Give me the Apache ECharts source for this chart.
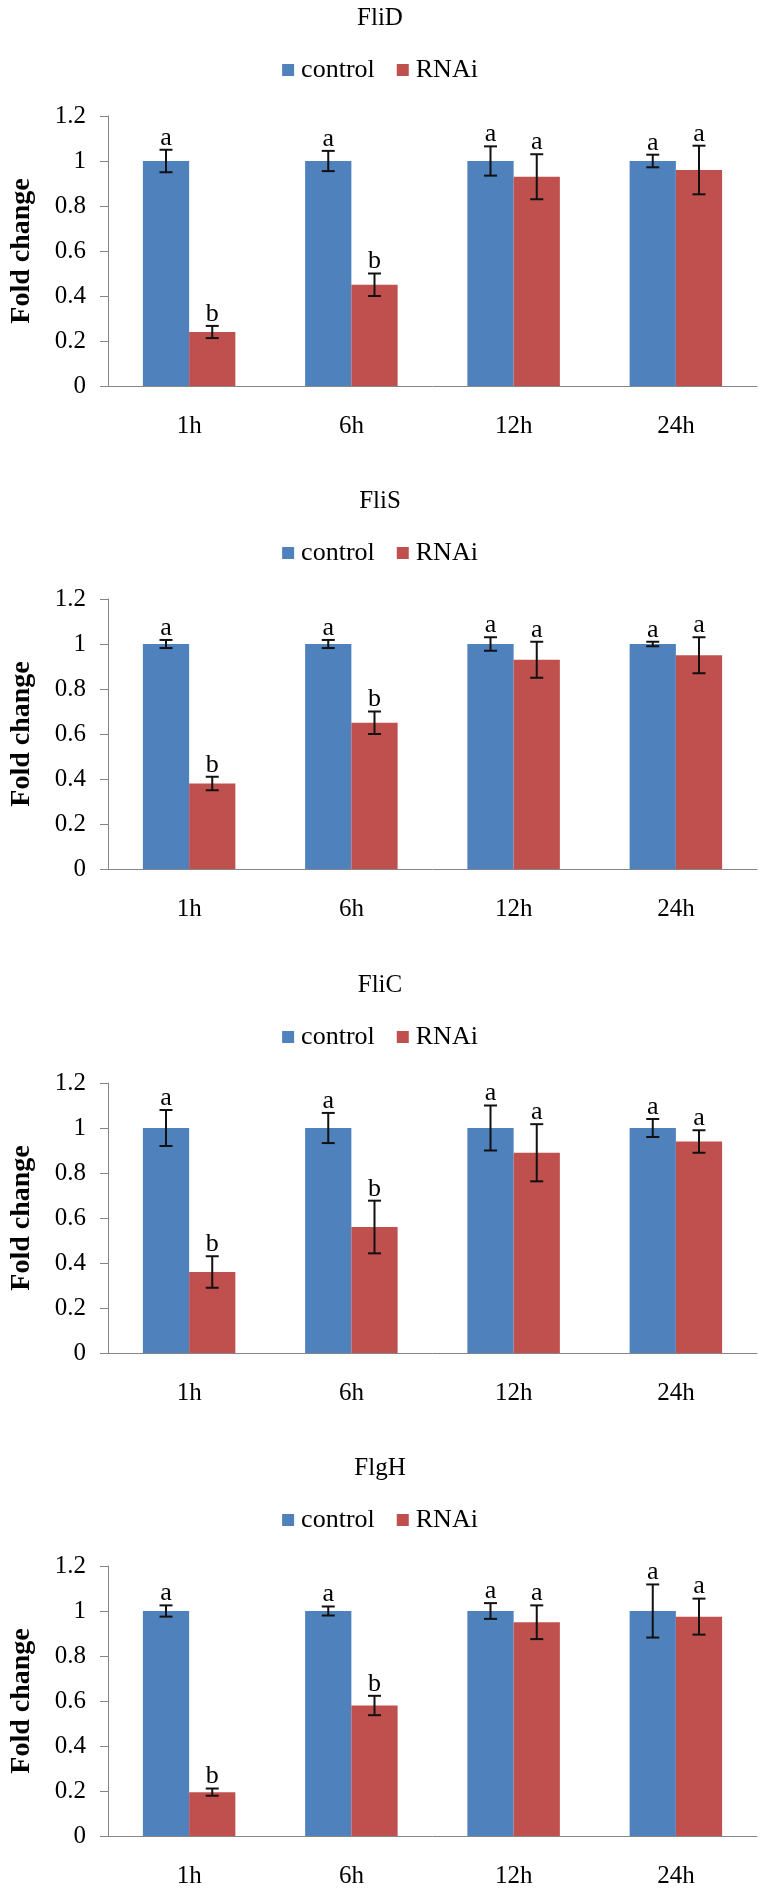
<!DOCTYPE html>
<html>
<head>
<meta charset="utf-8">
<script src="https://cdn.jsdelivr.net/npm/echarts@6/dist/echarts.min.js"></script>
<style>
html,body{margin:0;padding:0;background:#fff;}
#chart{width:760px;height:1890px;}
</style>
</head>
<body>
<div id="chart"></div>
<script>
// ---------- data ----------
const categories = ['1h', '6h', '12h', '24h'];
const genes = ['FliD', 'FliS', 'FliC', 'FlgH'];
const seriesNames = ['control', 'RNAi'];

const FliD_control = [1, 1, 1, 1];
const FliD_RNAi = [0.24, 0.45, 0.93, 0.96];
const FliD_controlErr = [0.05, 0.045, 0.065, 0.028];
const FliD_RNAiErr = [0.027, 0.05, 0.1, 0.108];
const FliD_controlLetters = ['a', 'a', 'a', 'a'];
const FliD_RNAiLetters = ['b', 'b', 'a', 'a'];

const FliS_control = [1, 1, 1, 1];
const FliS_RNAi = [0.38, 0.65, 0.93, 0.95];
const FliS_controlErr = [0.018, 0.018, 0.03, 0.01];
const FliS_RNAiErr = [0.03, 0.05, 0.08, 0.08];
const FliS_controlLetters = ['a', 'a', 'a', 'a'];
const FliS_RNAiLetters = ['b', 'b', 'a', 'a'];

const FliC_control = [1, 1, 1, 1];
const FliC_RNAi = [0.36, 0.56, 0.89, 0.94];
const FliC_controlErr = [0.08, 0.067, 0.1, 0.04];
const FliC_RNAiErr = [0.07, 0.117, 0.127, 0.05];
const FliC_controlLetters = ['a', 'a', 'a', 'a'];
const FliC_RNAiLetters = ['b', 'b', 'a', 'a'];

const FlgH_control = [1, 1, 1, 1];
const FlgH_RNAi = [0.195, 0.58, 0.95, 0.975];
const FlgH_controlErr = [0.025, 0.02, 0.035, 0.118];
const FlgH_RNAiErr = [0.016, 0.043, 0.075, 0.08];
const FlgH_controlLetters = ['a', 'a', 'a', 'a'];
const FlgH_RNAiLetters = ['b', 'b', 'a', 'a'];

// ---------- assembly ----------
const panels = [
  {name: genes[0], control: FliD_control, rnai: FliD_RNAi, cErr: FliD_controlErr, rErr: FliD_RNAiErr, cLet: FliD_controlLetters, rLet: FliD_RNAiLetters},
  {name: genes[1], control: FliS_control, rnai: FliS_RNAi, cErr: FliS_controlErr, rErr: FliS_RNAiErr, cLet: FliS_controlLetters, rLet: FliS_RNAiLetters},
  {name: genes[2], control: FliC_control, rnai: FliC_RNAi, cErr: FliC_controlErr, rErr: FliC_RNAiErr, cLet: FliC_controlLetters, rLet: FliC_RNAiLetters},
  {name: genes[3], control: FlgH_control, rnai: FlgH_RNAi, cErr: FlgH_controlErr, rErr: FlgH_RNAiErr, cLet: FlgH_controlLetters, rLet: FlgH_RNAiLetters}
];

const SERIF = 'Liberation Serif';
const BLUE = '#4F81BD';
const RED = '#C0504D';
const AXIS_GRAY = '#868686';
const GRID_TOPS = [116, 599, 1083, 1566];
const PLOT_H = 270;
const CAT_GAP = 0.43;

function makeRender(letters) {
  return function (params, api) {
    const idx = api.value(0);
    const lo = api.value(1);
    const hi = api.value(2);
    const side = api.value(3);
    const band = api.size([1, 0])[0];
    const bw = band * (1 - CAT_GAP) / 2;
    const top = api.coord([idx, hi]);
    const bot = api.coord([idx, lo]);
    const x = top[0] + side * bw / 2;
    const cap = 6.5;
    const st = {stroke: '#111', lineWidth: 2};
    return {
      type: 'group',
      children: [
        {type: 'line', shape: {x1: x, y1: top[1], x2: x, y2: bot[1]}, style: st},
        {type: 'line', shape: {x1: x - cap, y1: top[1], x2: x + cap, y2: top[1]}, style: st},
        {type: 'line', shape: {x1: x - cap, y1: bot[1], x2: x + cap, y2: bot[1]}, style: st},
        {type: 'text', x: x, y: top[1] + 1, style: {
          text: letters[params.dataIndex], fill: '#000',
          fontFamily: SERIF, fontSize: 26, align: 'center', verticalAlign: 'bottom'
        }}
      ]
    };
  };
}

const option = {
  animation: false,
  backgroundColor: '#fff',
  textStyle: {fontFamily: SERIF},
  title: [], legend: [], grid: [], xAxis: [], yAxis: [], series: []
};

panels.forEach(function (p, i) {
  const gt = GRID_TOPS[i];
  option.title.push({
    text: p.name, left: 'center', top: gt - 98 - 13, padding: 0,
    textStyle: {fontFamily: SERIF, fontSize: 25, fontWeight: 'normal', color: '#000', lineHeight: 26}
  });
  option.legend.push({
    data: seriesNames, left: 'center', top: gt - 46 - 13, padding: 0,
    icon: 'rect', itemWidth: 12, itemHeight: 12, itemGap: 22, selectedMode: false,
    textStyle: {fontFamily: SERIF, fontSize: 26, fontWeight: 'normal', color: '#000', lineHeight: 26, padding: [0, 0, 0, 2]}
  });
  option.grid.push({left: 107, right: 3, top: gt, height: PLOT_H});
  option.xAxis.push({
    gridIndex: i, type: 'category', data: categories,
    axisLine: {lineStyle: {color: AXIS_GRAY, width: 1}},
    axisTick: {length: 9, lineStyle: {color: AXIS_GRAY}},
    axisLabel: {fontFamily: SERIF, fontSize: 25, fontWeight: 'normal', color: '#000', margin: 28, lineHeight: 25}
  });
  option.yAxis.push({
    gridIndex: i, type: 'value', min: 0, max: 1.2, interval: 0.2,
    splitLine: {show: false},
    axisLine: {show: true, lineStyle: {color: AXIS_GRAY, width: 1}},
    axisTick: {show: true, length: 8, lineStyle: {color: AXIS_GRAY}},
    axisLabel: {fontFamily: SERIF, fontSize: 25, fontWeight: 'normal', color: '#000', margin: 22},
    name: 'Fold change', nameLocation: 'middle', nameGap: 72, nameRotate: 90,
    nameTextStyle: {fontFamily: SERIF, fontWeight: 'bold', fontSize: 28, color: '#000'}
  });
  option.series.push({
    type: 'bar', name: seriesNames[0], xAxisIndex: i, yAxisIndex: i,
    data: p.control, barGap: '0%', barCategoryGap: (CAT_GAP * 100) + '%',
    itemStyle: {color: BLUE}
  });
  option.series.push({
    type: 'bar', name: seriesNames[1], xAxisIndex: i, yAxisIndex: i,
    data: p.rnai, barGap: '0%', barCategoryGap: (CAT_GAP * 100) + '%',
    itemStyle: {color: RED}
  });
  const errData = [];
  const letters = [];
  categories.forEach(function (c, k) {
    errData.push([k, p.control[k] - p.cErr[k], p.control[k] + p.cErr[k], -1]);
    letters.push(p.cLet[k]);
    errData.push([k, p.rnai[k] - p.rErr[k], p.rnai[k] + p.rErr[k], 1]);
    letters.push(p.rLet[k]);
  });
  option.series.push({
    type: 'custom', name: 'error', xAxisIndex: i, yAxisIndex: i,
    data: errData, encode: {x: 0, y: [1, 2]}, z: 10, silent: true,
    renderItem: makeRender(letters)
  });
});

const chart = echarts.init(document.getElementById('chart'), null, {renderer: 'canvas'});
chart.setOption(option);
</script>
</body>
</html>
